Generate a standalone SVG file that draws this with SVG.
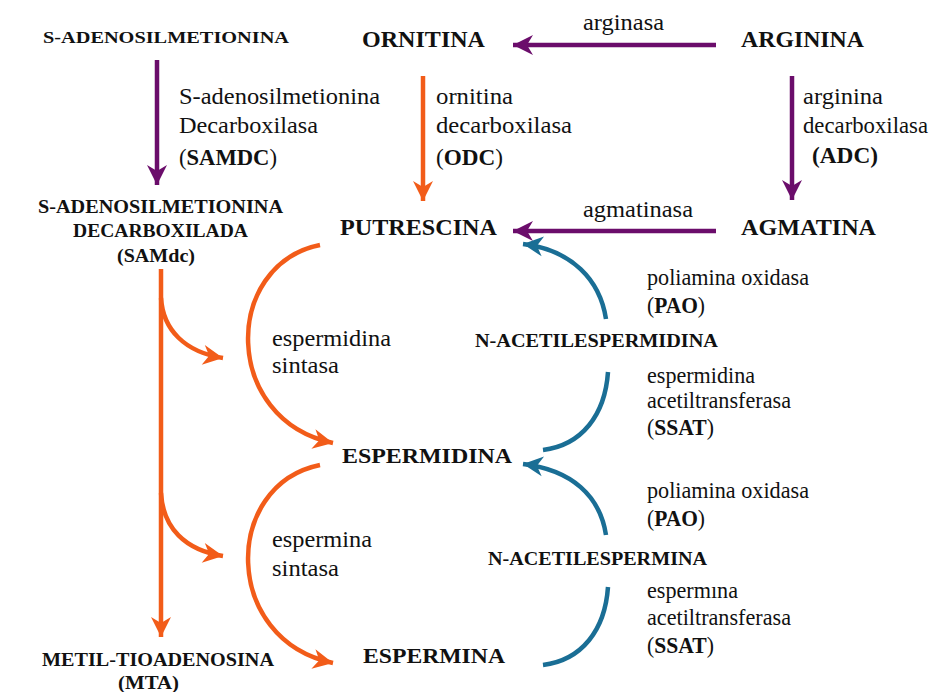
<svg xmlns="http://www.w3.org/2000/svg" width="940" height="692" viewBox="0 0 940 692" font-family="Liberation Serif, Times New Roman, serif">
<defs>
<marker id="ap" viewBox="-21 -11 22 22" markerWidth="22" markerHeight="22" refX="0" refY="0" orient="auto" markerUnits="userSpaceOnUse"><path d="M0,0 L-20,-10 L-14,0 L-20,10 Z" fill="#6b0d6b"/></marker>
<marker id="ao" viewBox="-21 -11 22 22" markerWidth="22" markerHeight="22" refX="0" refY="0" orient="auto" markerUnits="userSpaceOnUse"><path d="M0,0 L-20,-10 L-14,0 L-20,10 Z" fill="#f25c19"/></marker>
<marker id="ab" viewBox="-21 -11 22 22" markerWidth="22" markerHeight="22" refX="0" refY="0" orient="auto" markerUnits="userSpaceOnUse"><path d="M0,0 L-20,-10 L-14,0 L-20,10 Z" fill="#1a6e95"/></marker>
</defs>
<rect width="940" height="692" fill="#ffffff"/>
<g id="connectors" fill="none" stroke-width="4.5">
<g stroke="#6b0d6b">
<path d="M157,60 L157,185" marker-end="url(#ap)"/>
<path d="M716,45 L513,45" marker-end="url(#ap)"/>
<path d="M792,76 L792,200" marker-end="url(#ap)"/>
<path d="M716,231 L513,231" marker-end="url(#ap)"/>
</g>
<g stroke="#f25c19">
<path d="M423,76 L423,201" marker-end="url(#ao)"/>
<path d="M161,269 L161,637" marker-end="url(#ao)"/>
<path d="M161,298 C163,330 185,352 223,358" marker-end="url(#ao)"/>
<path d="M161,493 C163,528 185,550 223,556" marker-end="url(#ao)"/>
<path d="M320,245 C222,265 222,420 333,443" marker-end="url(#ao)"/>
<path d="M320,465 C222,485 222,640 333,663" marker-end="url(#ao)"/>
</g>
<g stroke="#1a6e95">
<path d="M606,319 C600,280 572,250 523,244" marker-end="url(#ab)"/>
<path d="M608,372 C605,415 582,445 543,450"/>
<path d="M606,535 C600,496 572,470 523,464" marker-end="url(#ab)"/>
<path d="M608,587 C605,630 582,660 543,665"/>
</g>
</g>
<g id="n-sam"><text x="43" y="43" font-family="Liberation Serif" font-weight="bold" fill="#111" font-size="17.5" textLength="246" lengthAdjust="spacingAndGlyphs">S-ADENOSILMETIONINA</text></g>
<g id="n-ornitina"><text x="362" y="47" font-family="Liberation Serif" font-weight="bold" fill="#111" font-size="23" textLength="123" lengthAdjust="spacingAndGlyphs">ORNITINA</text></g>
<g id="n-arginina"><text x="741" y="47" font-family="Liberation Serif" font-weight="bold" fill="#111" font-size="23" textLength="123" lengthAdjust="spacingAndGlyphs">ARGININA</text></g>
<g id="n-samdc">
<text x="38" y="213" font-family="Liberation Serif" font-weight="bold" fill="#111" font-size="19.5" textLength="245" lengthAdjust="spacingAndGlyphs">S-ADENOSILMETIONINA</text>
<text x="73" y="237" font-family="Liberation Serif" font-weight="bold" fill="#111" font-size="19.5" textLength="175" lengthAdjust="spacingAndGlyphs">DECARBOXILADA</text>
<text x="117" y="262" font-family="Liberation Serif" font-weight="bold" fill="#111" font-size="19.5" textLength="78" lengthAdjust="spacingAndGlyphs">(SAMdc)</text>
</g>
<g id="n-putrescina"><text x="340" y="235" font-family="Liberation Serif" font-weight="bold" fill="#111" font-size="23" textLength="157" lengthAdjust="spacingAndGlyphs">PUTRESCINA</text></g>
<g id="n-agmatina"><text x="741" y="235" font-family="Liberation Serif" font-weight="bold" fill="#111" font-size="23" textLength="135" lengthAdjust="spacingAndGlyphs">AGMATINA</text></g>
<g id="n-acetilespermidina"><text x="475" y="347" font-family="Liberation Serif" font-weight="bold" fill="#111" font-size="18.5" textLength="243" lengthAdjust="spacingAndGlyphs">N-ACETILESPERMIDINA</text></g>
<g id="n-espermidina"><text x="342" y="463" font-family="Liberation Serif" font-weight="bold" fill="#111" font-size="22" textLength="170" lengthAdjust="spacingAndGlyphs">ESPERMIDINA</text></g>
<g id="n-acetilespermina"><text x="488" y="565" font-family="Liberation Serif" font-weight="bold" fill="#111" font-size="18.5" textLength="219" lengthAdjust="spacingAndGlyphs">N-ACETILESPERMINA</text></g>
<g id="n-espermina"><text x="363" y="663" font-family="Liberation Serif" font-weight="bold" fill="#111" font-size="22" textLength="142" lengthAdjust="spacingAndGlyphs">ESPERMINA</text></g>
<g id="n-mta">
<text x="42" y="666" font-family="Liberation Serif" font-weight="bold" fill="#111" font-size="19" textLength="232" lengthAdjust="spacingAndGlyphs">METIL-TIOADENOSINA</text>
<text x="118" y="689" font-family="Liberation Serif" font-weight="bold" fill="#111" font-size="18" textLength="61" lengthAdjust="spacingAndGlyphs">(MTA)</text>
</g>
<g id="labels" fill="#111" font-size="23">
<text x="179" y="104" font-family="Liberation Serif" textLength="201" lengthAdjust="spacingAndGlyphs">S-adenosilmetionina</text>
<text x="179" y="133" font-family="Liberation Serif" textLength="139" lengthAdjust="spacingAndGlyphs">Decarboxilasa</text>
<text x="179" y="165" font-family="Liberation Serif" textLength="98" lengthAdjust="spacingAndGlyphs">(<tspan font-weight="bold">SAMDC</tspan>)</text>
<text x="436" y="104" font-family="Liberation Serif" textLength="77" lengthAdjust="spacingAndGlyphs">ornitina</text>
<text x="436" y="133" font-family="Liberation Serif" textLength="136" lengthAdjust="spacingAndGlyphs">decarboxilasa</text>
<text x="436" y="165" font-family="Liberation Serif" textLength="67" lengthAdjust="spacingAndGlyphs">(<tspan font-weight="bold">ODC</tspan>)</text>
<text x="583" y="30" font-family="Liberation Serif" textLength="81" lengthAdjust="spacingAndGlyphs">arginasa</text>
<text x="803" y="104" font-family="Liberation Serif" textLength="80" lengthAdjust="spacingAndGlyphs">arginina</text>
<text x="803" y="133" font-family="Liberation Serif" textLength="125" lengthAdjust="spacingAndGlyphs">decarboxilasa</text>
<text x="812" y="163" font-family="Liberation Serif" font-weight="bold" textLength="66" lengthAdjust="spacingAndGlyphs">(ADC)</text>
<text x="583" y="217" font-family="Liberation Serif" textLength="110" lengthAdjust="spacingAndGlyphs">agmatinasa</text>
<text x="647" y="285" font-family="Liberation Serif" textLength="162" lengthAdjust="spacingAndGlyphs">poliamina oxidasa</text>
<text x="647" y="313" font-family="Liberation Serif" textLength="58" lengthAdjust="spacingAndGlyphs">(<tspan font-weight="bold">PAO</tspan>)</text>
<text x="647" y="383" font-family="Liberation Serif" textLength="108" lengthAdjust="spacingAndGlyphs">espermidina</text>
<text x="647" y="408" font-family="Liberation Serif" textLength="144" lengthAdjust="spacingAndGlyphs">acetiltransferasa</text>
<text x="647" y="435" font-family="Liberation Serif" textLength="67" lengthAdjust="spacingAndGlyphs">(<tspan font-weight="bold">SSAT</tspan>)</text>
<text x="272" y="346" font-family="Liberation Serif" textLength="119" lengthAdjust="spacingAndGlyphs">espermidina</text>
<text x="272" y="373" font-family="Liberation Serif" textLength="67" lengthAdjust="spacingAndGlyphs">sintasa</text>
<text x="647" y="498" font-family="Liberation Serif" textLength="162" lengthAdjust="spacingAndGlyphs">poliamina oxidasa</text>
<text x="647" y="526" font-family="Liberation Serif" textLength="58" lengthAdjust="spacingAndGlyphs">(<tspan font-weight="bold">PAO</tspan>)</text>
<text x="647" y="598" font-family="Liberation Serif" textLength="91" lengthAdjust="spacingAndGlyphs">espermına</text>
<text x="647" y="625" font-family="Liberation Serif" textLength="144" lengthAdjust="spacingAndGlyphs">acetiltransferasa</text>
<text x="647" y="653" font-family="Liberation Serif" textLength="67" lengthAdjust="spacingAndGlyphs">(<tspan font-weight="bold">SSAT</tspan>)</text>
<text x="272" y="547" font-family="Liberation Serif" textLength="100" lengthAdjust="spacingAndGlyphs">espermina</text>
<text x="272" y="576" font-family="Liberation Serif" textLength="67" lengthAdjust="spacingAndGlyphs">sintasa</text>
</g>
</svg>
